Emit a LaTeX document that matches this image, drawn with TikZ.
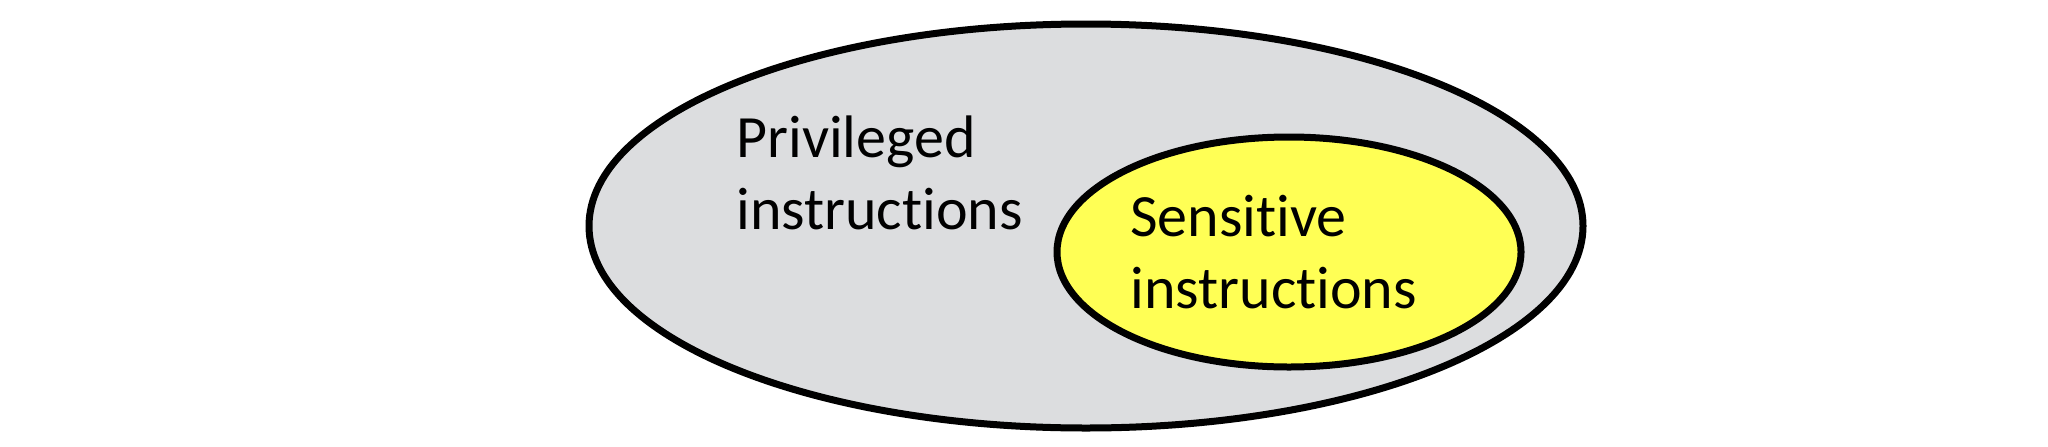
\documentclass[tikz,border=0pt]{standalone}
\usepackage{fontspec}
\setmainfont{Carlito}[Ligatures=NoCommon]
\usetikzlibrary{positioning}
\definecolor{privcolor}{RGB}{220,221,223}
\definecolor{senscolor}{RGB}{255,255,85}

\begin{document}
\begin{tikzpicture}[x=0.5pt,y=0.5pt]
    \tikzset{
        setshape/.style={draw=black,line width=3.5pt},
        setlabel/.style={inner sep=0pt,align=left,anchor=base west,
            font=\fontsize{30}{36}\selectfont}
    }
    \useasboundingbox (0,0) rectangle (2048,446);
    % Privileged instructions
    \draw[setshape,fill=privcolor] (1086,220) ellipse [x radius=497,y radius=202];
    \node[setlabel] (privlabel) at (736,217) {Privileged\\instructions};
    % Sensitive instructions
    \draw[setshape,fill=senscolor] (1289,194) ellipse [x radius=232,y radius=115];
    \node[setlabel] (senslabel) at (1130,138) {Sensitive\\instructions};
\end{tikzpicture}
\end{document}
